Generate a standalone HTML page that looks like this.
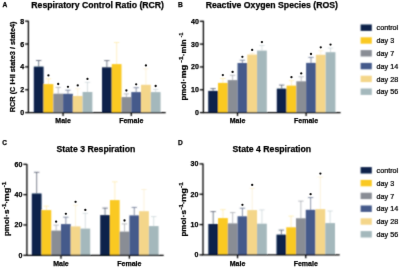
<!DOCTYPE html>
<html><head><meta charset="utf-8"><style>
html,body{margin:0;padding:0;background:#fff;width:400px;height:268px;overflow:hidden}
svg{display:block}
text{font-family:"Liberation Sans", sans-serif;fill:#000;stroke:#000;stroke-width:0.25px}
#w{width:400px;height:268px;will-change:transform;transform:translateZ(0)}
</style></head><body><div id="w">
<svg width="400" height="268" viewBox="0 0 400 268">
<defs><filter id="bl" x="0" y="0" width="400" height="268" filterUnits="userSpaceOnUse"><feConvolveMatrix order="3" kernelMatrix="1 2 1 2 8 2 1 2 1" divisor="20" edgeMode="none"/></filter><filter id="bt" x="0" y="0" width="400" height="268" filterUnits="userSpaceOnUse"><feConvolveMatrix order="3" kernelMatrix="0 1 0 1 12 1 0 1 0" divisor="16" edgeMode="none"/></filter></defs>
<rect width="400" height="268" fill="#fff"/>
<g filter="url(#bl)">
<line x1="38.68" y1="66.60" x2="38.68" y2="60.50" stroke="#27324a" stroke-opacity="0.95" stroke-width="0.65"/>
<line x1="35.98" y1="60.50" x2="41.38" y2="60.50" stroke="#27324a" stroke-opacity="0.95" stroke-width="0.65"/>
<rect x="33.80" y="66.60" width="9.76" height="46.00" fill="#0a244b"/>
<line x1="48.44" y1="84.10" x2="48.44" y2="78.80" stroke="#fac924" stroke-opacity="0.4" stroke-width="0.65"/>
<line x1="45.74" y1="78.80" x2="51.14" y2="78.80" stroke="#fac924" stroke-opacity="0.4" stroke-width="0.65"/>
<rect x="43.56" y="84.10" width="9.76" height="28.50" fill="#fac924"/>
<line x1="58.20" y1="93.70" x2="58.20" y2="87.40" stroke="#898d95" stroke-opacity="0.85" stroke-width="0.65"/>
<line x1="55.50" y1="87.40" x2="60.90" y2="87.40" stroke="#898d95" stroke-opacity="0.85" stroke-width="0.65"/>
<rect x="53.32" y="93.70" width="9.76" height="18.90" fill="#898d95"/>
<line x1="67.96" y1="93.80" x2="67.96" y2="90.20" stroke="#3a4a6e" stroke-opacity="0.9" stroke-width="0.65"/>
<line x1="65.26" y1="90.20" x2="70.66" y2="90.20" stroke="#3a4a6e" stroke-opacity="0.9" stroke-width="0.65"/>
<rect x="63.08" y="93.80" width="9.76" height="18.80" fill="#445a8b"/>
<line x1="77.72" y1="96.00" x2="77.72" y2="88.80" stroke="#f4d68a" stroke-opacity="0.45" stroke-width="0.65"/>
<line x1="75.02" y1="88.80" x2="80.42" y2="88.80" stroke="#f4d68a" stroke-opacity="0.45" stroke-width="0.65"/>
<rect x="72.84" y="96.00" width="9.76" height="16.60" fill="#f4d68a"/>
<line x1="87.48" y1="92.00" x2="87.48" y2="82.30" stroke="#a4b8bc" stroke-opacity="0.65" stroke-width="0.65"/>
<line x1="84.78" y1="82.30" x2="90.18" y2="82.30" stroke="#a4b8bc" stroke-opacity="0.65" stroke-width="0.65"/>
<rect x="82.60" y="92.00" width="9.76" height="20.60" fill="#a4b8bc"/>
<line x1="106.88" y1="67.30" x2="106.88" y2="60.60" stroke="#27324a" stroke-opacity="0.95" stroke-width="0.65"/>
<line x1="104.18" y1="60.60" x2="109.58" y2="60.60" stroke="#27324a" stroke-opacity="0.95" stroke-width="0.65"/>
<rect x="102.00" y="67.30" width="9.76" height="45.30" fill="#0a244b"/>
<line x1="116.64" y1="64.10" x2="116.64" y2="42.50" stroke="#fac924" stroke-opacity="0.4" stroke-width="0.65"/>
<line x1="113.94" y1="42.50" x2="119.34" y2="42.50" stroke="#fac924" stroke-opacity="0.4" stroke-width="0.65"/>
<rect x="111.76" y="64.10" width="9.76" height="48.50" fill="#fac924"/>
<line x1="126.40" y1="97.10" x2="126.40" y2="93.90" stroke="#898d95" stroke-opacity="0.85" stroke-width="0.65"/>
<line x1="123.70" y1="93.90" x2="129.10" y2="93.90" stroke="#898d95" stroke-opacity="0.85" stroke-width="0.65"/>
<rect x="121.52" y="97.10" width="9.76" height="15.50" fill="#898d95"/>
<line x1="136.16" y1="92.10" x2="136.16" y2="87.70" stroke="#3a4a6e" stroke-opacity="0.9" stroke-width="0.65"/>
<line x1="133.46" y1="87.70" x2="138.86" y2="87.70" stroke="#3a4a6e" stroke-opacity="0.9" stroke-width="0.65"/>
<rect x="131.28" y="92.10" width="9.76" height="20.50" fill="#445a8b"/>
<line x1="145.92" y1="84.80" x2="145.92" y2="68.80" stroke="#f4d68a" stroke-opacity="0.45" stroke-width="0.65"/>
<line x1="143.22" y1="68.80" x2="148.62" y2="68.80" stroke="#f4d68a" stroke-opacity="0.45" stroke-width="0.65"/>
<rect x="141.04" y="84.80" width="9.76" height="27.80" fill="#f4d68a"/>
<line x1="155.68" y1="92.10" x2="155.68" y2="89.40" stroke="#a4b8bc" stroke-opacity="0.65" stroke-width="0.65"/>
<line x1="152.98" y1="89.40" x2="158.38" y2="89.40" stroke="#a4b8bc" stroke-opacity="0.65" stroke-width="0.65"/>
<rect x="150.80" y="92.10" width="9.76" height="20.50" fill="#a4b8bc"/>
<path d="M28.40 20.80 V112.60 H165.70" fill="none" stroke="#000" stroke-width="1.3"/>
<line x1="25.10" y1="112.60" x2="28.40" y2="112.60" stroke="#000" stroke-width="1.3"/>
<line x1="25.10" y1="89.74" x2="28.40" y2="89.74" stroke="#000" stroke-width="1.3"/>
<line x1="25.10" y1="66.88" x2="28.40" y2="66.88" stroke="#000" stroke-width="1.3"/>
<line x1="25.10" y1="44.02" x2="28.40" y2="44.02" stroke="#000" stroke-width="1.3"/>
<line x1="25.10" y1="21.16" x2="28.40" y2="21.16" stroke="#000" stroke-width="1.3"/>
<line x1="63.08" y1="112.60" x2="63.08" y2="116.00" stroke="#000" stroke-width="1.3"/>
<line x1="131.28" y1="112.60" x2="131.28" y2="116.00" stroke="#000" stroke-width="1.3"/>
<line x1="213.08" y1="90.90" x2="213.08" y2="88.60" stroke="#27324a" stroke-opacity="0.95" stroke-width="0.65"/>
<line x1="210.38" y1="88.60" x2="215.78" y2="88.60" stroke="#27324a" stroke-opacity="0.95" stroke-width="0.65"/>
<rect x="208.20" y="90.90" width="9.77" height="21.70" fill="#0a244b"/>
<line x1="222.85" y1="82.90" x2="222.85" y2="78.50" stroke="#fac924" stroke-opacity="0.4" stroke-width="0.65"/>
<line x1="220.16" y1="78.50" x2="225.55" y2="78.50" stroke="#fac924" stroke-opacity="0.4" stroke-width="0.65"/>
<rect x="217.97" y="82.90" width="9.77" height="29.70" fill="#fac924"/>
<line x1="232.62" y1="80.10" x2="232.62" y2="75.30" stroke="#898d95" stroke-opacity="0.85" stroke-width="0.65"/>
<line x1="229.92" y1="75.30" x2="235.32" y2="75.30" stroke="#898d95" stroke-opacity="0.85" stroke-width="0.65"/>
<rect x="227.74" y="80.10" width="9.77" height="32.50" fill="#898d95"/>
<line x1="242.39" y1="63.00" x2="242.39" y2="60.20" stroke="#3a4a6e" stroke-opacity="0.9" stroke-width="0.65"/>
<line x1="239.69" y1="60.20" x2="245.09" y2="60.20" stroke="#3a4a6e" stroke-opacity="0.9" stroke-width="0.65"/>
<rect x="237.51" y="63.00" width="9.77" height="49.60" fill="#445a8b"/>
<line x1="252.16" y1="54.60" x2="252.16" y2="53.30" stroke="#f4d68a" stroke-opacity="0.45" stroke-width="0.65"/>
<line x1="249.46" y1="53.30" x2="254.86" y2="53.30" stroke="#f4d68a" stroke-opacity="0.45" stroke-width="0.65"/>
<rect x="247.28" y="54.60" width="9.77" height="58.00" fill="#f4d68a"/>
<line x1="261.93" y1="50.60" x2="261.93" y2="45.50" stroke="#a4b8bc" stroke-opacity="0.65" stroke-width="0.65"/>
<line x1="259.23" y1="45.50" x2="264.63" y2="45.50" stroke="#a4b8bc" stroke-opacity="0.65" stroke-width="0.65"/>
<rect x="257.05" y="50.60" width="9.77" height="62.00" fill="#a4b8bc"/>
<line x1="281.69" y1="88.60" x2="281.69" y2="85.10" stroke="#27324a" stroke-opacity="0.95" stroke-width="0.65"/>
<line x1="278.99" y1="85.10" x2="284.38" y2="85.10" stroke="#27324a" stroke-opacity="0.95" stroke-width="0.65"/>
<rect x="276.80" y="88.60" width="9.77" height="24.00" fill="#0a244b"/>
<line x1="291.45" y1="85.60" x2="291.45" y2="80.60" stroke="#fac924" stroke-opacity="0.4" stroke-width="0.65"/>
<line x1="288.75" y1="80.60" x2="294.15" y2="80.60" stroke="#fac924" stroke-opacity="0.4" stroke-width="0.65"/>
<rect x="286.57" y="85.60" width="9.77" height="27.00" fill="#fac924"/>
<line x1="301.23" y1="81.30" x2="301.23" y2="76.80" stroke="#898d95" stroke-opacity="0.85" stroke-width="0.65"/>
<line x1="298.53" y1="76.80" x2="303.93" y2="76.80" stroke="#898d95" stroke-opacity="0.85" stroke-width="0.65"/>
<rect x="296.34" y="81.30" width="9.77" height="31.30" fill="#898d95"/>
<line x1="311.00" y1="62.90" x2="311.00" y2="57.40" stroke="#3a4a6e" stroke-opacity="0.9" stroke-width="0.65"/>
<line x1="308.30" y1="57.40" x2="313.69" y2="57.40" stroke="#3a4a6e" stroke-opacity="0.9" stroke-width="0.65"/>
<rect x="306.11" y="62.90" width="9.77" height="49.70" fill="#445a8b"/>
<line x1="320.76" y1="54.80" x2="320.76" y2="50.70" stroke="#f4d68a" stroke-opacity="0.45" stroke-width="0.65"/>
<line x1="318.06" y1="50.70" x2="323.46" y2="50.70" stroke="#f4d68a" stroke-opacity="0.45" stroke-width="0.65"/>
<rect x="315.88" y="54.80" width="9.77" height="57.80" fill="#f4d68a"/>
<line x1="330.53" y1="52.20" x2="330.53" y2="48.00" stroke="#a4b8bc" stroke-opacity="0.65" stroke-width="0.65"/>
<line x1="327.83" y1="48.00" x2="333.23" y2="48.00" stroke="#a4b8bc" stroke-opacity="0.65" stroke-width="0.65"/>
<rect x="325.65" y="52.20" width="9.77" height="60.40" fill="#a4b8bc"/>
<path d="M203.40 20.80 V112.60 H340.60" fill="none" stroke="#000" stroke-width="1.3"/>
<line x1="199.80" y1="112.60" x2="203.40" y2="112.60" stroke="#000" stroke-width="1.3"/>
<line x1="199.80" y1="89.77" x2="203.40" y2="89.77" stroke="#000" stroke-width="1.3"/>
<line x1="199.80" y1="66.94" x2="203.40" y2="66.94" stroke="#000" stroke-width="1.3"/>
<line x1="199.80" y1="44.11" x2="203.40" y2="44.11" stroke="#000" stroke-width="1.3"/>
<line x1="199.80" y1="21.28" x2="203.40" y2="21.28" stroke="#000" stroke-width="1.3"/>
<line x1="237.51" y1="112.60" x2="237.51" y2="116.00" stroke="#000" stroke-width="1.3"/>
<line x1="306.11" y1="112.60" x2="306.11" y2="116.00" stroke="#000" stroke-width="1.3"/>
<rect x="360.6" y="24.50" width="11.2" height="6.4" fill="#0a244b"/>
<rect x="360.6" y="37.30" width="11.2" height="6.4" fill="#fac924"/>
<rect x="360.6" y="50.10" width="11.2" height="6.4" fill="#898d95"/>
<rect x="360.6" y="62.90" width="11.2" height="6.4" fill="#445a8b"/>
<rect x="360.6" y="75.70" width="11.2" height="6.4" fill="#f4d68a"/>
<rect x="360.6" y="88.50" width="11.2" height="6.4" fill="#a4b8bc"/>
<line x1="36.66" y1="193.50" x2="36.66" y2="172.30" stroke="#27324a" stroke-opacity="0.95" stroke-width="0.65"/>
<line x1="33.96" y1="172.30" x2="39.37" y2="172.30" stroke="#27324a" stroke-opacity="0.95" stroke-width="0.65"/>
<rect x="31.80" y="193.50" width="9.73" height="61.80" fill="#0a244b"/>
<line x1="46.40" y1="210.10" x2="46.40" y2="206.10" stroke="#fac924" stroke-opacity="0.4" stroke-width="0.65"/>
<line x1="43.70" y1="206.10" x2="49.10" y2="206.10" stroke="#fac924" stroke-opacity="0.4" stroke-width="0.65"/>
<rect x="41.53" y="210.10" width="9.73" height="45.20" fill="#fac924"/>
<line x1="56.13" y1="230.60" x2="56.13" y2="225.10" stroke="#898d95" stroke-opacity="0.85" stroke-width="0.65"/>
<line x1="53.43" y1="225.10" x2="58.83" y2="225.10" stroke="#898d95" stroke-opacity="0.85" stroke-width="0.65"/>
<rect x="51.26" y="230.60" width="9.73" height="24.70" fill="#898d95"/>
<line x1="65.86" y1="224.10" x2="65.86" y2="217.20" stroke="#3a4a6e" stroke-opacity="0.9" stroke-width="0.65"/>
<line x1="63.16" y1="217.20" x2="68.56" y2="217.20" stroke="#3a4a6e" stroke-opacity="0.9" stroke-width="0.65"/>
<rect x="60.99" y="224.10" width="9.73" height="31.20" fill="#445a8b"/>
<line x1="75.58" y1="226.40" x2="75.58" y2="205.20" stroke="#f4d68a" stroke-opacity="0.45" stroke-width="0.65"/>
<line x1="72.88" y1="205.20" x2="78.28" y2="205.20" stroke="#f4d68a" stroke-opacity="0.45" stroke-width="0.65"/>
<rect x="70.72" y="226.40" width="9.73" height="28.90" fill="#f4d68a"/>
<line x1="85.31" y1="228.60" x2="85.31" y2="213.30" stroke="#a4b8bc" stroke-opacity="0.65" stroke-width="0.65"/>
<line x1="82.61" y1="213.30" x2="88.02" y2="213.30" stroke="#a4b8bc" stroke-opacity="0.65" stroke-width="0.65"/>
<rect x="80.45" y="228.60" width="9.73" height="26.70" fill="#a4b8bc"/>
<line x1="105.06" y1="215.10" x2="105.06" y2="208.10" stroke="#27324a" stroke-opacity="0.95" stroke-width="0.65"/>
<line x1="102.36" y1="208.10" x2="107.77" y2="208.10" stroke="#27324a" stroke-opacity="0.95" stroke-width="0.65"/>
<rect x="100.20" y="215.10" width="9.73" height="40.20" fill="#0a244b"/>
<line x1="114.80" y1="200.10" x2="114.80" y2="181.80" stroke="#fac924" stroke-opacity="0.4" stroke-width="0.65"/>
<line x1="112.09" y1="181.80" x2="117.50" y2="181.80" stroke="#fac924" stroke-opacity="0.4" stroke-width="0.65"/>
<rect x="109.93" y="200.10" width="9.73" height="55.20" fill="#fac924"/>
<line x1="124.52" y1="231.60" x2="124.52" y2="223.90" stroke="#898d95" stroke-opacity="0.85" stroke-width="0.65"/>
<line x1="121.82" y1="223.90" x2="127.22" y2="223.90" stroke="#898d95" stroke-opacity="0.85" stroke-width="0.65"/>
<rect x="119.66" y="231.60" width="9.73" height="23.70" fill="#898d95"/>
<line x1="134.26" y1="215.40" x2="134.26" y2="207.40" stroke="#3a4a6e" stroke-opacity="0.9" stroke-width="0.65"/>
<line x1="131.56" y1="207.40" x2="136.96" y2="207.40" stroke="#3a4a6e" stroke-opacity="0.9" stroke-width="0.65"/>
<rect x="129.39" y="215.40" width="9.73" height="39.90" fill="#445a8b"/>
<line x1="143.99" y1="211.20" x2="143.99" y2="189.50" stroke="#f4d68a" stroke-opacity="0.45" stroke-width="0.65"/>
<line x1="141.29" y1="189.50" x2="146.69" y2="189.50" stroke="#f4d68a" stroke-opacity="0.45" stroke-width="0.65"/>
<rect x="139.12" y="211.20" width="9.73" height="44.10" fill="#f4d68a"/>
<line x1="153.72" y1="226.10" x2="153.72" y2="216.60" stroke="#a4b8bc" stroke-opacity="0.65" stroke-width="0.65"/>
<line x1="151.02" y1="216.60" x2="156.42" y2="216.60" stroke="#a4b8bc" stroke-opacity="0.65" stroke-width="0.65"/>
<rect x="148.85" y="226.10" width="9.73" height="29.20" fill="#a4b8bc"/>
<path d="M26.90 163.90 V255.30 H163.70" fill="none" stroke="#000" stroke-width="1.3"/>
<line x1="23.30" y1="255.30" x2="26.90" y2="255.30" stroke="#000" stroke-width="1.3"/>
<line x1="23.30" y1="224.97" x2="26.90" y2="224.97" stroke="#000" stroke-width="1.3"/>
<line x1="23.30" y1="194.63" x2="26.90" y2="194.63" stroke="#000" stroke-width="1.3"/>
<line x1="23.30" y1="164.30" x2="26.90" y2="164.30" stroke="#000" stroke-width="1.3"/>
<line x1="60.99" y1="255.30" x2="60.99" y2="258.70" stroke="#000" stroke-width="1.3"/>
<line x1="129.39" y1="255.30" x2="129.39" y2="258.70" stroke="#000" stroke-width="1.3"/>
<line x1="213.18" y1="224.00" x2="213.18" y2="211.60" stroke="#27324a" stroke-opacity="0.95" stroke-width="0.65"/>
<line x1="210.48" y1="211.60" x2="215.88" y2="211.60" stroke="#27324a" stroke-opacity="0.95" stroke-width="0.65"/>
<rect x="208.30" y="224.00" width="9.75" height="30.90" fill="#0a244b"/>
<line x1="222.93" y1="218.10" x2="222.93" y2="209.60" stroke="#fac924" stroke-opacity="0.4" stroke-width="0.65"/>
<line x1="220.23" y1="209.60" x2="225.62" y2="209.60" stroke="#fac924" stroke-opacity="0.4" stroke-width="0.65"/>
<rect x="218.05" y="218.10" width="9.75" height="36.80" fill="#fac924"/>
<line x1="232.68" y1="223.40" x2="232.68" y2="212.60" stroke="#898d95" stroke-opacity="0.85" stroke-width="0.65"/>
<line x1="229.98" y1="212.60" x2="235.38" y2="212.60" stroke="#898d95" stroke-opacity="0.85" stroke-width="0.65"/>
<rect x="227.80" y="223.40" width="9.75" height="31.50" fill="#898d95"/>
<line x1="242.43" y1="216.30" x2="242.43" y2="208.20" stroke="#3a4a6e" stroke-opacity="0.9" stroke-width="0.65"/>
<line x1="239.73" y1="208.20" x2="245.12" y2="208.20" stroke="#3a4a6e" stroke-opacity="0.9" stroke-width="0.65"/>
<rect x="237.55" y="216.30" width="9.75" height="38.60" fill="#445a8b"/>
<line x1="252.18" y1="210.10" x2="252.18" y2="188.30" stroke="#f4d68a" stroke-opacity="0.45" stroke-width="0.65"/>
<line x1="249.48" y1="188.30" x2="254.88" y2="188.30" stroke="#f4d68a" stroke-opacity="0.45" stroke-width="0.65"/>
<rect x="247.30" y="210.10" width="9.75" height="44.80" fill="#f4d68a"/>
<line x1="261.93" y1="223.70" x2="261.93" y2="209.90" stroke="#a4b8bc" stroke-opacity="0.65" stroke-width="0.65"/>
<line x1="259.23" y1="209.90" x2="264.62" y2="209.90" stroke="#a4b8bc" stroke-opacity="0.65" stroke-width="0.65"/>
<rect x="257.05" y="223.70" width="9.75" height="31.20" fill="#a4b8bc"/>
<line x1="281.38" y1="234.60" x2="281.38" y2="230.10" stroke="#27324a" stroke-opacity="0.95" stroke-width="0.65"/>
<line x1="278.68" y1="230.10" x2="284.07" y2="230.10" stroke="#27324a" stroke-opacity="0.95" stroke-width="0.65"/>
<rect x="276.50" y="234.60" width="9.75" height="20.30" fill="#0a244b"/>
<line x1="291.12" y1="227.30" x2="291.12" y2="216.10" stroke="#fac924" stroke-opacity="0.4" stroke-width="0.65"/>
<line x1="288.43" y1="216.10" x2="293.82" y2="216.10" stroke="#fac924" stroke-opacity="0.4" stroke-width="0.65"/>
<rect x="286.25" y="227.30" width="9.75" height="27.60" fill="#fac924"/>
<line x1="300.88" y1="218.30" x2="300.88" y2="201.10" stroke="#898d95" stroke-opacity="0.85" stroke-width="0.65"/>
<line x1="298.18" y1="201.10" x2="303.57" y2="201.10" stroke="#898d95" stroke-opacity="0.85" stroke-width="0.65"/>
<rect x="296.00" y="218.30" width="9.75" height="36.60" fill="#898d95"/>
<line x1="310.62" y1="209.80" x2="310.62" y2="197.60" stroke="#3a4a6e" stroke-opacity="0.9" stroke-width="0.65"/>
<line x1="307.93" y1="197.60" x2="313.32" y2="197.60" stroke="#3a4a6e" stroke-opacity="0.9" stroke-width="0.65"/>
<rect x="305.75" y="209.80" width="9.75" height="45.10" fill="#445a8b"/>
<line x1="320.38" y1="209.10" x2="320.38" y2="177.00" stroke="#f4d68a" stroke-opacity="0.45" stroke-width="0.65"/>
<line x1="317.68" y1="177.00" x2="323.07" y2="177.00" stroke="#f4d68a" stroke-opacity="0.45" stroke-width="0.65"/>
<rect x="315.50" y="209.10" width="9.75" height="45.80" fill="#f4d68a"/>
<line x1="330.12" y1="223.10" x2="330.12" y2="211.00" stroke="#a4b8bc" stroke-opacity="0.65" stroke-width="0.65"/>
<line x1="327.43" y1="211.00" x2="332.82" y2="211.00" stroke="#a4b8bc" stroke-opacity="0.65" stroke-width="0.65"/>
<rect x="325.25" y="223.10" width="9.75" height="31.80" fill="#a4b8bc"/>
<path d="M203.00 163.40 V254.90 H339.70" fill="none" stroke="#000" stroke-width="1.3"/>
<line x1="199.40" y1="254.90" x2="203.00" y2="254.90" stroke="#000" stroke-width="1.3"/>
<line x1="199.40" y1="224.57" x2="203.00" y2="224.57" stroke="#000" stroke-width="1.3"/>
<line x1="199.40" y1="194.24" x2="203.00" y2="194.24" stroke="#000" stroke-width="1.3"/>
<line x1="199.40" y1="163.91" x2="203.00" y2="163.91" stroke="#000" stroke-width="1.3"/>
<line x1="237.55" y1="254.90" x2="237.55" y2="258.30" stroke="#000" stroke-width="1.3"/>
<line x1="305.75" y1="254.90" x2="305.75" y2="258.30" stroke="#000" stroke-width="1.3"/>
<rect x="360.6" y="167.10" width="11.2" height="6.4" fill="#0a244b"/>
<rect x="360.6" y="179.90" width="11.2" height="6.4" fill="#fac924"/>
<rect x="360.6" y="192.70" width="11.2" height="6.4" fill="#898d95"/>
<rect x="360.6" y="205.50" width="11.2" height="6.4" fill="#445a8b"/>
<rect x="360.6" y="218.30" width="11.2" height="6.4" fill="#f4d68a"/>
<rect x="360.6" y="231.10" width="11.2" height="6.4" fill="#a4b8bc"/>
</g>
<g filter="url(#bt)">
<circle cx="48.44" cy="75.40" r="1.15" fill="#111"/>
<circle cx="58.20" cy="84.00" r="1.15" fill="#111"/>
<circle cx="67.96" cy="86.80" r="1.15" fill="#111"/>
<circle cx="77.72" cy="85.40" r="1.15" fill="#111"/>
<circle cx="87.48" cy="78.90" r="1.15" fill="#111"/>
<circle cx="126.40" cy="90.50" r="1.15" fill="#111"/>
<circle cx="136.16" cy="84.30" r="1.15" fill="#111"/>
<circle cx="145.92" cy="65.40" r="1.15" fill="#111"/>
<circle cx="155.68" cy="86.00" r="1.15" fill="#111"/>
<text x="24.10" y="115.10" text-anchor="end" font-size="7" font-weight="bold">0</text>
<text x="24.10" y="92.24" text-anchor="end" font-size="7" font-weight="bold">2</text>
<text x="24.10" y="69.38" text-anchor="end" font-size="7" font-weight="bold">4</text>
<text x="24.10" y="46.52" text-anchor="end" font-size="7" font-weight="bold">6</text>
<text x="24.10" y="23.66" text-anchor="end" font-size="7" font-weight="bold">8</text>
<text x="63.08" y="123.40" text-anchor="middle" font-size="7" font-weight="bold">Male</text>
<text x="131.28" y="123.40" text-anchor="middle" font-size="7" font-weight="bold">Female</text>
<text x="97.65" y="8.10" text-anchor="middle" font-size="8.7" font-weight="bold">Respiratory Control Ratio (RCR)</text>
<text x="2.60" y="7.20" font-size="6.6" font-weight="bold">A</text>
<text transform="translate(14.90,112.20) rotate(-90)" font-size="7.4" font-weight="bold" textLength="90.70" lengthAdjust="spacingAndGlyphs">RCR (C I+II state3 / state4)</text>
<circle cx="222.85" cy="75.10" r="1.15" fill="#111"/>
<circle cx="232.62" cy="71.90" r="1.15" fill="#111"/>
<circle cx="242.39" cy="56.80" r="1.15" fill="#111"/>
<circle cx="252.16" cy="49.90" r="1.15" fill="#111"/>
<circle cx="261.93" cy="42.10" r="1.15" fill="#111"/>
<circle cx="291.45" cy="77.20" r="1.15" fill="#111"/>
<circle cx="301.23" cy="73.40" r="1.15" fill="#111"/>
<circle cx="311.00" cy="54.00" r="1.15" fill="#111"/>
<circle cx="320.76" cy="47.30" r="1.15" fill="#111"/>
<circle cx="330.53" cy="44.60" r="1.15" fill="#111"/>
<text x="198.80" y="115.10" text-anchor="end" font-size="7" font-weight="bold">0</text>
<text x="198.80" y="92.27" text-anchor="end" font-size="7" font-weight="bold">10</text>
<text x="198.80" y="69.44" text-anchor="end" font-size="7" font-weight="bold">20</text>
<text x="198.80" y="46.61" text-anchor="end" font-size="7" font-weight="bold">30</text>
<text x="198.80" y="23.78" text-anchor="end" font-size="7" font-weight="bold">40</text>
<text x="237.51" y="123.40" text-anchor="middle" font-size="7" font-weight="bold">Male</text>
<text x="306.11" y="123.40" text-anchor="middle" font-size="7" font-weight="bold">Female</text>
<text x="271.80" y="8.10" text-anchor="middle" font-size="8.7" font-weight="bold">Reactive Oxygen Species (ROS)</text>
<text x="178.00" y="7.20" font-size="6.6" font-weight="bold">B</text>
<text transform="translate(186.20,100.60) rotate(-90)" font-size="7.5" font-weight="bold" textLength="19.00" lengthAdjust="spacingAndGlyphs">pmol</text>
<text transform="translate(186.20,80.10) rotate(-90)" font-size="7.5" font-weight="bold" text-anchor="middle">·</text>
<text transform="translate(186.20,78.60) rotate(-90)" font-size="7.5" font-weight="bold" textLength="13.80" lengthAdjust="spacingAndGlyphs">mg</text>
<text transform="translate(182.50,62.40) rotate(-90)" font-size="6.0" font-weight="bold" textLength="6.10" lengthAdjust="spacingAndGlyphs">-1</text>
<text transform="translate(186.20,54.85) rotate(-90)" font-size="7.5" font-weight="bold" text-anchor="middle">·</text>
<text transform="translate(186.20,53.60) rotate(-90)" font-size="7.5" font-weight="bold" textLength="14.20" lengthAdjust="spacingAndGlyphs">min</text>
<text transform="translate(182.50,37.30) rotate(-90)" font-size="6.0" font-weight="bold" textLength="4.50" lengthAdjust="spacingAndGlyphs">-1</text>
<text x="376.6" y="30.30" font-size="7.2" style="stroke-width:0.24px">control</text>
<text x="376.6" y="43.10" font-size="7.2" style="stroke-width:0.24px">day 3</text>
<text x="376.6" y="55.90" font-size="7.2" style="stroke-width:0.24px">day 7</text>
<text x="376.6" y="68.70" font-size="7.2" style="stroke-width:0.24px">day 14</text>
<text x="376.6" y="81.50" font-size="7.2" style="stroke-width:0.24px">day 28</text>
<text x="376.6" y="94.30" font-size="7.2" style="stroke-width:0.24px">day 56</text>
<circle cx="56.13" cy="221.70" r="1.15" fill="#111"/>
<circle cx="65.86" cy="213.80" r="1.15" fill="#111"/>
<circle cx="75.58" cy="201.80" r="1.15" fill="#111"/>
<circle cx="85.31" cy="209.90" r="1.15" fill="#111"/>
<circle cx="124.52" cy="220.50" r="1.15" fill="#111"/>
<text x="22.30" y="257.80" text-anchor="end" font-size="7" font-weight="bold">0</text>
<text x="22.30" y="227.47" text-anchor="end" font-size="7" font-weight="bold">20</text>
<text x="22.30" y="197.13" text-anchor="end" font-size="7" font-weight="bold">40</text>
<text x="22.30" y="166.80" text-anchor="end" font-size="7" font-weight="bold">60</text>
<text x="60.99" y="266.30" text-anchor="middle" font-size="7" font-weight="bold">Male</text>
<text x="129.39" y="266.30" text-anchor="middle" font-size="7" font-weight="bold">Female</text>
<text x="95.90" y="151.90" text-anchor="middle" font-size="8.7" font-weight="bold">State 3 Respiration</text>
<text x="2.20" y="145.30" font-size="6.5" font-weight="bold">C</text>
<text transform="translate(9.40,236.00) rotate(-90)" font-size="7.5" font-weight="bold" textLength="19.00" lengthAdjust="spacingAndGlyphs">pmol</text>
<text transform="translate(9.40,215.50) rotate(-90)" font-size="7.5" font-weight="bold" text-anchor="middle">·</text>
<text transform="translate(9.40,214.00) rotate(-90)" font-size="7.5" font-weight="bold" textLength="4.50" lengthAdjust="spacingAndGlyphs">s</text>
<text transform="translate(5.70,209.10) rotate(-90)" font-size="6.0" font-weight="bold" textLength="5.70" lengthAdjust="spacingAndGlyphs">-1</text>
<text transform="translate(9.40,202.25) rotate(-90)" font-size="7.5" font-weight="bold" text-anchor="middle">·</text>
<text transform="translate(9.40,201.60) rotate(-90)" font-size="7.5" font-weight="bold" textLength="14.00" lengthAdjust="spacingAndGlyphs">mg</text>
<text transform="translate(5.70,187.30) rotate(-90)" font-size="6.0" font-weight="bold" textLength="5.60" lengthAdjust="spacingAndGlyphs">-1</text>
<circle cx="242.43" cy="204.80" r="1.15" fill="#111"/>
<circle cx="252.18" cy="184.90" r="1.15" fill="#111"/>
<circle cx="310.62" cy="194.20" r="1.15" fill="#111"/>
<circle cx="320.38" cy="173.60" r="1.15" fill="#111"/>
<text x="198.40" y="257.40" text-anchor="end" font-size="7" font-weight="bold">0</text>
<text x="198.40" y="227.07" text-anchor="end" font-size="7" font-weight="bold">10</text>
<text x="198.40" y="196.74" text-anchor="end" font-size="7" font-weight="bold">20</text>
<text x="198.40" y="166.41" text-anchor="end" font-size="7" font-weight="bold">30</text>
<text x="237.55" y="266.30" text-anchor="middle" font-size="7" font-weight="bold">Male</text>
<text x="305.75" y="266.30" text-anchor="middle" font-size="7" font-weight="bold">Female</text>
<text x="271.80" y="151.90" text-anchor="middle" font-size="8.7" font-weight="bold">State 4 Respiration</text>
<text x="178.00" y="145.00" font-size="6.6" font-weight="bold">D</text>
<text transform="translate(186.20,236.50) rotate(-90)" font-size="7.5" font-weight="bold" textLength="19.00" lengthAdjust="spacingAndGlyphs">pmol</text>
<text transform="translate(186.20,216.00) rotate(-90)" font-size="7.5" font-weight="bold" text-anchor="middle">·</text>
<text transform="translate(186.20,214.50) rotate(-90)" font-size="7.5" font-weight="bold" textLength="4.50" lengthAdjust="spacingAndGlyphs">s</text>
<text transform="translate(182.50,209.60) rotate(-90)" font-size="6.0" font-weight="bold" textLength="5.70" lengthAdjust="spacingAndGlyphs">-1</text>
<text transform="translate(186.20,202.75) rotate(-90)" font-size="7.5" font-weight="bold" text-anchor="middle">·</text>
<text transform="translate(186.20,202.10) rotate(-90)" font-size="7.5" font-weight="bold" textLength="14.00" lengthAdjust="spacingAndGlyphs">mg</text>
<text transform="translate(182.50,187.80) rotate(-90)" font-size="6.0" font-weight="bold" textLength="5.60" lengthAdjust="spacingAndGlyphs">-1</text>
<text x="376.6" y="172.90" font-size="7.2" style="stroke-width:0.24px">control</text>
<text x="376.6" y="185.70" font-size="7.2" style="stroke-width:0.24px">day 3</text>
<text x="376.6" y="198.50" font-size="7.2" style="stroke-width:0.24px">day 7</text>
<text x="376.6" y="211.30" font-size="7.2" style="stroke-width:0.24px">day 14</text>
<text x="376.6" y="224.10" font-size="7.2" style="stroke-width:0.24px">day 28</text>
<text x="376.6" y="236.90" font-size="7.2" style="stroke-width:0.24px">day 56</text>
</g>
</svg></div></body></html>
